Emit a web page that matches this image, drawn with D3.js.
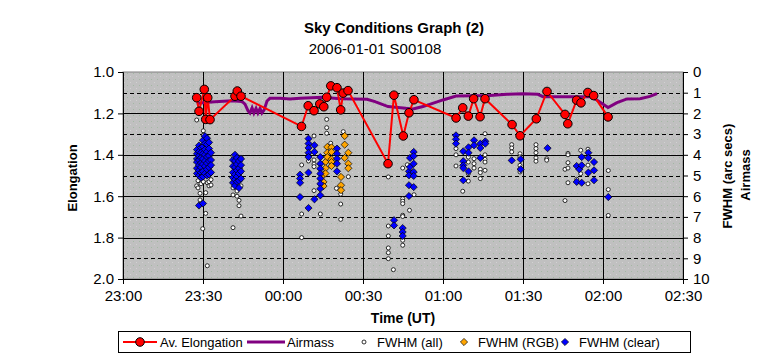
<!DOCTYPE html>
<html>
<head>
<meta charset="utf-8">
<script src="https://cdn.jsdelivr.net/npm/d3@7"></script>
<style>
  body { margin: 0; background: #fff; }
  svg { display: block; font-family: "Liberation Sans", Arial, sans-serif; }
</style>
</head>
<body>
<div id="chart"></div>
<script>
// ---- data ----
const xTickLabels = ["23:00", "23:30", "00:00", "00:30", "01:00", "01:30", "02:00", "02:30"];
const elongTicks = [1.0, 1.2, 1.4, 1.6, 1.8, 2.0];
const rightTicks = [0, 1, 2, 3, 4, 5, 6, 7, 8, 9, 10];

// Av. Elongation (left axis)
const elongTime = ["23:27:38", "23:28:30", "23:30:29", "23:31:01", "23:31:46", "23:32:38", "23:42:00", "23:42:52",
  "23:44:15", "00:06:56", "00:09:27", "00:11:38", "00:13:48", "00:15:18", "00:16:23", "00:17:56", "00:20:15",
  "00:21:38", "00:22:35", "00:24:23", "00:39:23", "00:41:36", "00:45:06", "00:47:15", "00:49:06", "01:04:54",
  "01:07:24", "01:09:30", "01:11:30", "01:13:54", "01:15:45", "01:25:54", "01:28:54", "01:35:00", "01:39:00",
  "01:45:45", "01:46:48", "01:50:06", "01:51:45", "01:54:18", "01:56:30", "02:01:54"];
const elongValue = [1.124, 1.190, 1.084, 1.229, 1.124, 1.230, 1.117, 1.092, 1.117, 1.263, 1.163, 1.187, 1.154,
  1.168, 1.122, 1.067, 1.076, 1.183, 1.102, 1.090, 1.443, 1.112, 1.309, 1.197, 1.134, 1.222, 1.173, 1.213, 1.129,
  1.216, 1.129, 1.254, 1.308, 1.226, 1.094, 1.205, 1.250, 1.136, 1.149, 1.099, 1.114, 1.217];

// Airmass (right axis)
const airmassTime = ["23:27:38", "23:30:45", "23:34:30", "23:40:54", "23:44:36", "23:45:45", "23:46:54", "23:47:36",
  "23:48:24", "23:49:06", "23:49:54", "23:50:36", "23:51:24", "23:52:06", "23:52:54", "23:54:00", "23:55:06",
  "23:58:54", "00:02:36", "00:06:24", "00:15:00", "00:21:24", "00:31:30", "00:34:30", "00:39:24", "00:48:45",
  "00:52:30", "01:00:00", "01:04:54", "01:17:36", "01:24:00", "01:30:00", "01:35:36", "01:37:30", "01:55:06",
  "01:57:24", "02:01:54", "02:05:15", "02:09:00", "02:13:54", "02:17:36", "02:20:15"];
const airmassValue = [1.52, 1.47, 1.44, 1.39, 1.42, 1.55, 1.88, 1.98, 1.73, 1.98, 1.76, 1.98, 1.76, 1.98, 1.84,
  1.40, 1.27, 1.27, 1.30, 1.27, 1.22, 1.29, 1.32, 1.43, 1.67, 1.79, 1.67, 1.35, 1.16, 1.14, 1.08, 1.05, 1.08,
  1.19, 1.19, 1.33, 1.72, 1.48, 1.30, 1.29, 1.18, 1.04];

// FWHM (all) - time, values (arc secs)
const fwhmAll = [
  ["23:27:38", [2.32, 5.5]], ["23:28:08", [5.25, 5.6]], ["23:28:53", [5.86, 6.18]], ["23:29:15", [5.4]],
  ["23:29:53", [7.57]], ["23:30:07", [2.84, 3.05, 5.3]], ["23:31:01", [5.83, 6.83]], ["23:31:37", [9.36, 5.35]],
  ["23:32:15", [5.3, 5.5]], ["23:33:00", [5.2, 5.46]],
  ["23:41:15", [4.06, 5.6, 5.94, 7.52]], ["23:42:45", [6.0, 5.75]], ["23:43:30", [6.2, 6.46]],
  ["23:44:15", [4.12, 5.5, 6.96]],
  ["00:07:00", [4.49, 6.86, 8.0]], ["00:09:34", [4.0, 4.3]], ["00:11:38", [3.09, 4.25, 4.45, 4.57, 5.73]],
  ["00:14:00", [6.86]], ["00:16:23", [2.29, 2.69, 2.96]], ["00:17:54", [3.44]], ["00:20:01", [5.62]],
  ["00:21:38", [5.9, 6.38, 7.12]], ["00:22:36", [2.88]], ["00:24:30", [5.06]],
  ["00:39:30", [5.07, 7.44, 7.92, 8.5, 8.73, 9.02]], ["00:41:24", [9.55]],
  ["00:44:53", [4.64, 6.12, 6.24, 6.36, 6.92, 6.98, 8.13, 8.37]], ["00:46:36", [4.48]], ["00:47:26", [6.68]],
  ["00:49:08", [5.93]],
  ["01:04:52", [3.7, 4.0, 4.54]], ["01:07:24", [5.76]], ["01:09:30", [4.11, 4.35, 4.91, 5.27]],
  ["01:11:38", [4.19, 4.43, 4.64]], ["01:14:00", [4.7, 4.86, 5.15]], ["01:15:45", [2.98, 4.0, 4.22, 4.35, 4.75]],
  ["01:25:46", [3.51, 3.67, 3.86]], ["01:28:52", [3.95, 4.1, 4.51, 4.7, 4.83]],
  ["01:34:52", [3.51, 3.7, 3.9, 4.15, 4.31]], ["01:38:53", [4.19, 4.26]],
  ["01:45:45", [4.7, 6.21]], ["01:46:52", [3.93, 4.0, 4.38, 4.64, 5.35]], ["01:50:08", [5.18]],
  ["01:51:38", [3.78, 4.91]], ["01:54:22", [3.73, 4.5, 5.4]], ["02:01:59", [4.76, 5.68, 6.93]]
];

// FWHM (RGB)
const fwhmRgb = [
  ["00:15:11", [4.96, 5.31, 5.51]], ["00:15:56", [4.35, 4.65, 4.9]], ["00:16:37", [3.62, 3.9, 4.11]],
  ["00:18:11", [3.64, 3.86, 4.22, 4.35, 4.54]], ["00:21:45", [5.07, 5.47, 5.71]],
  ["00:23:08", [3.09, 3.51, 4.15]], ["00:24:30", [3.9, 4.43, 4.65]]
];

// FWHM (clear)
const fwhmClear = [
  ["23:27:45", [3.75, 3.95, 4.2, 4.35, 4.65, 4.9]], ["23:28:30", [3.55, 3.85, 4.05, 4.25, 4.5, 4.75, 5.0, 6.45]],
  ["23:29:15", [3.65, 3.9, 4.15, 4.4, 4.6, 4.85, 5.1]], ["23:30:00", [3.3, 3.6, 3.95, 4.2, 4.45, 4.8, 5.05, 6.35]],
  ["23:30:45", [3.1, 3.45, 3.75, 4.0, 4.3, 4.55, 4.9]], ["23:31:30", [3.2, 3.5, 3.85, 4.1, 4.4, 4.7, 5.0]],
  ["23:32:15", [3.4, 3.7, 4.05, 4.3, 4.6, 4.95]], ["23:33:00", [3.9, 4.25, 4.5, 4.85]],
  ["23:41:15", [4.25, 4.55, 4.85, 5.1, 5.35]], ["23:42:00", [4.0, 4.3, 4.6, 4.95, 5.2, 5.5]],
  ["23:42:45", [4.15, 4.45, 4.75, 5.05, 5.3]], ["23:43:30", [4.3, 4.65, 4.9, 5.25, 5.6]],
  ["23:44:15", [4.2, 4.5, 4.8, 5.15]],
  ["00:06:24", [4.96, 5.15, 5.35, 6.04]], ["00:09:34", [3.22, 3.46, 3.67, 3.9, 4.11, 4.86, 6.57]],
  ["00:11:48", [3.54, 3.86, 6.15]], ["00:14:00", [4.11, 4.43, 4.67, 4.91, 5.15, 5.4, 5.64, 5.96]],
  ["00:20:15", [3.7, 3.95, 4.19, 4.43, 4.8]],
  ["00:41:38", [7.16, 7.41]], ["00:44:53", [7.54, 7.73, 7.92]], ["00:47:15", [4.8, 4.99, 5.47, 5.99]],
  ["00:47:38", [4.15, 4.59]], ["00:49:00", [3.86, 4.06, 4.43, 4.83, 5.02, 5.56]],
  ["01:04:52", [3.06, 3.25, 3.46]], ["01:07:36", [3.83, 4.31, 4.51, 4.64, 5.23]], ["01:09:34", [3.64, 3.9, 4.8]],
  ["01:11:38", [3.3, 3.54]], ["01:14:00", [3.46, 3.67, 4.15]], ["01:15:52", [3.35, 3.46]],
  ["01:25:46", [4.27]], ["01:29:07", [4.22, 4.7]], ["01:39:13", [3.68]],
  ["01:50:08", [4.54, 5.31]], ["01:51:07", [4.7]], ["01:52:01", [4.11, 4.51, 5.35]],
  ["01:54:30", [3.9, 4.15, 4.86]], ["01:56:38", [4.35, 4.75, 5.23]], ["02:01:59", [6.04]]
];

// ---- chart ----
const w = 766, h = 361;
const margin = {top: 72, right: 83, bottom: 82, left: 123};

// times after noon belong to the evening before, the rest to the next day
function parseUT(s) {
  const [hh, mm, ss] = s.split(":").map(Number);
  return new Date(Date.UTC(2006, 0, hh >= 12 ? 0 : 1, hh, mm, ss || 0));
}
const flat = groups => groups.flatMap(([t, vs]) => vs.map(v => ({t: parseUT(t), v})));

const svg = d3.select("#chart").append("svg")
  .attr("width", w)
  .attr("height", h)
  .attr("viewBox", [0, 0, w, h]);

const x = d3.scaleUtc()
  .domain([parseUT("23:00"), parseUT("02:30")])
  .range([margin.left, w - margin.right]);
const yL = d3.scaleLinear().domain([1, 2]).range([margin.top, h - margin.bottom]);
const yR = d3.scaleLinear().domain([0, 10]).range([margin.top, h - margin.bottom]);

// dotted grey plot fill
const defs = svg.append("defs");
const pat = defs.append("pattern")
  .attr("id", "dots").attr("patternUnits", "userSpaceOnUse")
  .attr("width", 6).attr("height", 6);
pat.append("rect").attr("width", 6).attr("height", 6).attr("fill", "#c0c0c0");
pat.append("rect").attr("x", 1).attr("y", 1).attr("width", 1).attr("height", 1).attr("fill", "#a3b8a3");
pat.append("rect").attr("x", 4).attr("y", 4).attr("width", 1).attr("height", 1).attr("fill", "#d2d2d2");

svg.append("rect")
  .attr("x", x.range()[0]).attr("y", yL.range()[0])
  .attr("width", x.range()[1] - x.range()[0])
  .attr("height", yL.range()[1] - yL.range()[0])
  .attr("fill", "url(#dots)")
  .attr("stroke", "#808080");

// gridlines
const grid = svg.append("g").attr("shape-rendering", "crispEdges");
const hLines = d3.range(11).map(i => 1 + i / 10).filter(v => v > 1.01 && v < 1.99);
grid.selectAll(".hl").data(hLines).join("line")
  .attr("x1", x.range()[0]).attr("x2", x.range()[1])
  .attr("y1", d => Math.round(yL(d)) + 0.5).attr("y2", d => Math.round(yL(d)) + 0.5)
  .attr("stroke", "#000")
  .attr("stroke-dasharray", (d, i) => i % 2 === 0 ? "4,3" : null);
const xTicks = xTickLabels.map(parseUT);
grid.selectAll(".vl").data(xTicks.slice(1, -1)).join("line")
  .attr("x1", d => Math.round(x(d)) + 0.5).attr("x2", d => Math.round(x(d)) + 0.5)
  .attr("y1", yL.range()[0]).attr("y2", yL.range()[1])
  .attr("stroke", "#000");

// scatter series
const diamond = r => `M0,${-r}L${r},0L0,${r}L${-r},0Z`;
svg.append("g").selectAll("circle").data(flat(fwhmAll)).join("circle")
  .attr("cx", d => x(d.t)).attr("cy", d => yR(d.v)).attr("r", 2)
  .attr("fill", "#fff").attr("stroke", "#000").attr("stroke-width", 0.8);
svg.append("g").selectAll("path").data(flat(fwhmRgb)).join("path")
  .attr("transform", d => `translate(${x(d.t)},${yR(d.v)})`)
  .attr("d", diamond(3.6))
  .attr("fill", "#ffa500").attr("stroke", "#000").attr("stroke-width", 0.7);
svg.append("g").selectAll("path").data(flat(fwhmClear)).join("path")
  .attr("transform", d => `translate(${x(d.t)},${yR(d.v)})`)
  .attr("d", diamond(3.6))
  .attr("fill", "#0000ff").attr("stroke", "#000").attr("stroke-width", 0.7);

// airmass line
const airmass = airmassTime.map((t, i) => ({t: parseUT(t), v: airmassValue[i]}));
svg.append("path").datum(airmass)
  .attr("fill", "none").attr("stroke", "#800080").attr("stroke-width", 3)
  .attr("d", d3.line().x(d => x(d.t)).y(d => yR(d.v)));

// elongation line + markers
const elong = elongTime.map((t, i) => ({t: parseUT(t), v: elongValue[i]}));
svg.append("path").datum(elong)
  .attr("fill", "none").attr("stroke", "#ff0000").attr("stroke-width", 2)
  .attr("d", d3.line().x(d => x(d.t)).y(d => yL(d.v)));
svg.append("g").selectAll("circle").data(elong).join("circle")
  .attr("cx", d => x(d.t)).attr("cy", d => yL(d.v)).attr("r", 4.3)
  .attr("fill", "#ff0000").attr("stroke", "#000").attr("stroke-width", 1);

// axes
const axisFont = g => g.selectAll("text").attr("font-size", 15).attr("fill", "#000")
  .attr("font-family", "Liberation Sans, Arial, sans-serif");
svg.append("g")
  .attr("transform", `translate(${margin.left},0)`)
  .call(d3.axisLeft(yL).tickValues(elongTicks).tickFormat(d3.format(".1f")).tickSize(5).tickPadding(4))
  .call(axisFont)
  .call(g => g.select(".domain").attr("stroke", "#000"));
svg.append("g")
  .attr("transform", `translate(${w - margin.right},0)`)
  .call(d3.axisRight(yR).tickValues(rightTicks).tickSize(5).tickPadding(5))
  .call(axisFont);
svg.append("g")
  .attr("transform", `translate(0,${h - margin.bottom})`)
  .call(d3.axisBottom(x).tickValues(xTicks).tickFormat(d3.utcFormat("%H:%M")).tickSize(5).tickPadding(6))
  .call(axisFont);

// titles
svg.append("text").attr("x", 394).attr("y", 33).attr("text-anchor", "middle")
  .attr("font-size", 15).attr("font-weight", "bold").text("Sky Conditions Graph (2)");
svg.append("text").attr("x", 375).attr("y", 54).attr("text-anchor", "middle")
  .attr("font-size", 15).text("2006-01-01 S00108");
svg.append("text").attr("x", 403).attr("y", 323).attr("text-anchor", "middle")
  .attr("font-size", 14).attr("font-weight", "bold").text("Time (UT)");
svg.append("text").attr("transform", "translate(77,178) rotate(-90)").attr("text-anchor", "middle")
  .attr("font-size", 13).attr("font-weight", "bold").text("Elongation");
svg.append("text").attr("transform", "translate(732,176) rotate(-90)").attr("text-anchor", "middle")
  .attr("font-size", 13).attr("font-weight", "bold").text("FWHM (arc secs)");
svg.append("text").attr("transform", "translate(750,175) rotate(-90)").attr("text-anchor", "middle")
  .attr("font-size", 13).attr("font-weight", "bold").text("Airmass");

// legend
const lg = svg.append("g").attr("font-size", 13);
lg.append("rect").attr("x", 118.5).attr("y", 331.5).attr("width", 572).attr("height", 21)
  .attr("fill", "#fff").attr("stroke", "#000");
const ly = 342;
lg.append("line").attr("x1", 123).attr("x2", 157).attr("y1", ly).attr("y2", ly)
  .attr("stroke", "#ff0000").attr("stroke-width", 2);
lg.append("circle").attr("cx", 140).attr("cy", ly).attr("r", 4.3)
  .attr("fill", "#ff0000").attr("stroke", "#000");
lg.append("text").attr("x", 160).attr("y", ly + 5).text("Av. Elongation");
lg.append("line").attr("x1", 247).attr("x2", 285).attr("y1", ly).attr("y2", ly)
  .attr("stroke", "#800080").attr("stroke-width", 3);
lg.append("text").attr("x", 287).attr("y", ly + 5).text("Airmass");
lg.append("circle").attr("cx", 364).attr("cy", ly).attr("r", 2)
  .attr("fill", "#fff").attr("stroke", "#000").attr("stroke-width", 0.8);
lg.append("text").attr("x", 377).attr("y", ly + 5).text("FWHM (all)");
lg.append("path").attr("transform", `translate(464,${ly})`).attr("d", diamond(3.6))
  .attr("fill", "#ffa500").attr("stroke", "#000").attr("stroke-width", 0.7);
lg.append("text").attr("x", 478).attr("y", ly + 5).text("FWHM (RGB)");
lg.append("path").attr("transform", `translate(565,${ly})`).attr("d", diamond(3.6))
  .attr("fill", "#0000ff").attr("stroke", "#000").attr("stroke-width", 0.7);
lg.append("text").attr("x", 579).attr("y", ly + 5).text("FWHM (clear)");
</script>
</body>
</html>
